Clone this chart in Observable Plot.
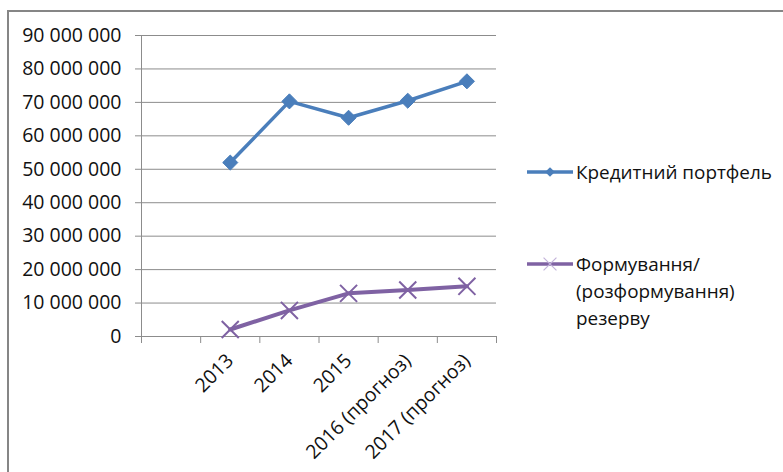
<!DOCTYPE html>
<html>
<head>
<meta charset="utf-8">
<script src="https://cdn.jsdelivr.net/npm/d3@7"></script>
<script src="https://cdn.jsdelivr.net/npm/@observablehq/plot@0.6"></script>
<style>
  body { margin: 0; background: #fff; }
  #wrap { position: relative; width: 783px; height: 472px; overflow: hidden; font-family: "Open Sans", sans-serif; }
  #frame { position: absolute; left: 7px; top: 10px; width: 820px; height: 520px;
           border-top: 2px solid #868686; border-left: 2px solid #868686; }
  #chart, #legend { position: absolute; left: 0; top: 0; }
</style>
</head>
<body>
<div id="wrap">
  <div id="frame"></div>
  <div id="chart"></div>
  <svg id="legend" width="783" height="472"></svg>
</div>
<script>
// Category slots on the horizontal axis (the first slot is left empty)
const categories = ["", "2013", "2014", "2015", "2016 (прогноз)", "2017 (прогноз)"];
const years = ["2013", "2014", "2015", "2016 (прогноз)", "2017 (прогноз)"];

// Кредитний портфель
const creditPortfolio = [52000000, 70300000, 65400000, 70500000, 76300000];
// Формування/(розформування) резерву
const reserves = [2100000, 7800000, 12900000, 13900000, 15000000];

// Value axis ticks
const yTicks = [0, 10000000, 20000000, 30000000, 40000000, 50000000, 60000000, 70000000, 80000000, 90000000];

const seriesNames = ["Кредитний портфель", "Формування/\n(розформування)\nрезерву"];
const blue = "#4a7ebb";
const purple = "#7f62a3";
const grid = "#8c8c8c";
const ink = "#111";
const fontSize = 19.5;

const slot = (c) => categories.indexOf(c) + 0.5;
const credit = years.map((c, i) => ({x: slot(c), y: creditPortfolio[i]}));
const reserve = years.map((c, i) => ({x: slot(c), y: reserves[i]}));

const fmt = (v) => d3.format(",")(v).replace(/,/g, " ");

const chart = Plot.plot({
  width: 783,
  height: 472,
  marginLeft: 141,
  marginRight: 287,
  marginTop: 35,
  marginBottom: 136,
  style: {fontFamily: "'Open Sans', sans-serif", fontSize: `${fontSize}px`, color: ink, background: "transparent"},
  x: {type: "linear", domain: [0, categories.length]},
  y: {domain: [0, 90000000]},
  marks: [
    Plot.ruleY(yTicks, {stroke: grid, strokeWidth: 1}),
    Plot.ruleX([0], {stroke: grid, strokeWidth: 1}),
    Plot.axisY({ticks: yTicks, tickSize: 6, tickPadding: 14, tickFormat: fmt, stroke: grid, fill: ink, fontSize, label: null}),
    Plot.axisX({ticks: d3.range(categories.length + 1), tickSize: 7, tickFormat: () => "", stroke: grid, label: null}),
    Plot.axisX({ticks: categories.map((c, i) => i + 0.5), tickSize: 0, tickPadding: 21,
                tickFormat: (v) => categories[Math.round(v - 0.5)], tickRotate: -45,
                fill: ink, fontSize, label: null}),
    Plot.line(credit, {x: "x", y: "y", stroke: blue, strokeWidth: 3.5}),
    Plot.dot(credit, {x: "x", y: "y", symbol: "diamond2", r: 6.8, fill: blue, stroke: blue, strokeWidth: 1}),
    Plot.line(reserve, {x: "x", y: "y", stroke: purple, strokeWidth: 4}),
    Plot.dot(reserve, {x: "x", y: "y", symbol: "times", r: 7.8, stroke: purple, strokeWidth: 2})
  ]
});
document.getElementById("chart").appendChild(chart);

// Legend to the right of the plot
const lg = d3.select("#legend");
const entries = [
  {name: seriesNames[0], color: blue, y: 172, marker: "diamond"},
  {name: seriesNames[1], color: purple, y: 264, marker: "times"}
];
for (const e of entries) {
  lg.append("line").attr("x1", 527).attr("x2", 573).attr("y1", e.y).attr("y2", e.y)
    .attr("stroke", e.color).attr("stroke-width", 3.5);
  if (e.marker === "diamond") {
    lg.append("path").attr("d", d3.symbol(d3.symbolDiamond2, 60)())
      .attr("transform", `translate(550,${e.y})`).attr("fill", e.color);
  } else {
    lg.append("path").attr("d", d3.symbol(d3.symbolTimes, 110)())
      .attr("transform", `translate(550,${e.y})`).attr("fill", "none")
      .attr("stroke", "#c3b3da").attr("stroke-width", 1.2);
  }
  const t = lg.append("text").attr("x", 576).attr("y", e.y + 7)
    .attr("font-family", "'Open Sans', sans-serif").attr("font-size", 18.9).attr("fill", ink);
  e.name.split("\n").forEach((line, i) => {
    t.append("tspan").attr("x", 576).attr("dy", i === 0 ? 0 : 27).text(line);
  });
}
</script>
</body>
</html>
